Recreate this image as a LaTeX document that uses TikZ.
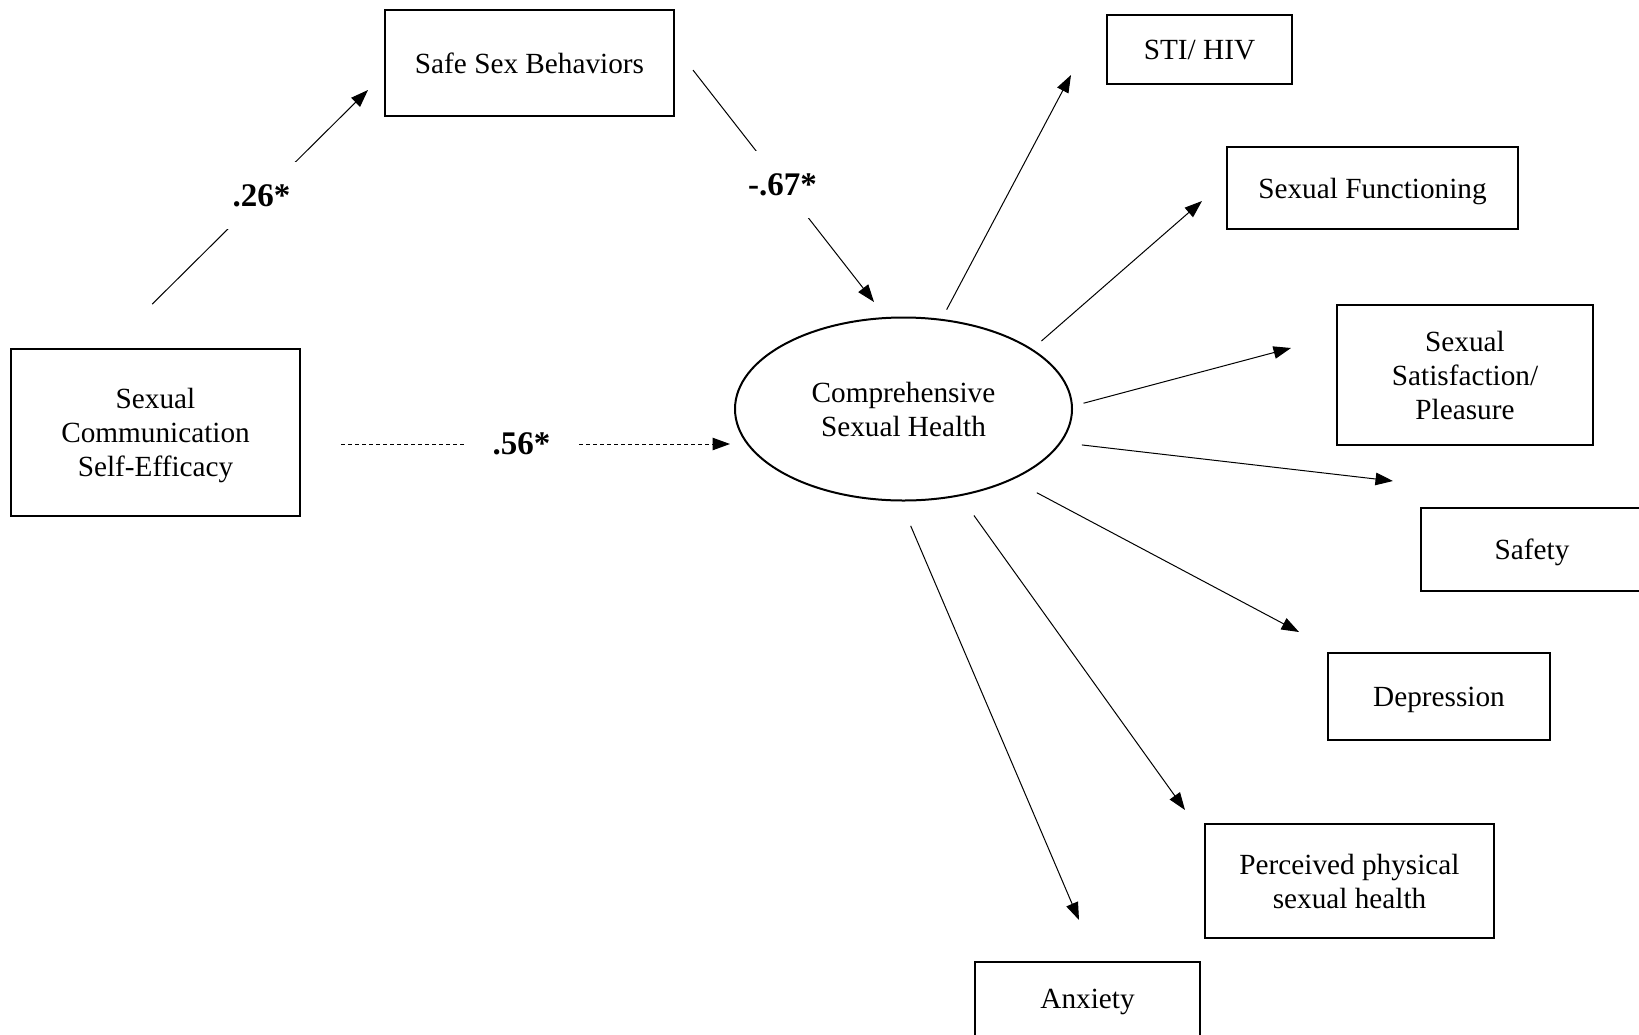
\documentclass[tikz,border=0pt]{standalone}
\usepackage{fontspec}
\setmainfont{Liberation Serif}
\usepackage{tikz}
\usetikzlibrary{shapes.geometric}
\usetikzlibrary{arrows.meta}
\tikzset{
var/.style={ % Observed variables
rectangle,
draw,
line width=0.8pt,
align=center,
text depth=0pt,
inner sep=0pt},
latent/.style={ % Latent construct
ellipse,
draw,
line width=0.8pt,
align=center,
text depth=0pt,
inner sep=0pt},
coef/.style={ % Path coefficients cut into the line
fill=white,
font=\fontsize{13.2}{15}\selectfont\bfseries,
inner xsep=10.8pt,
inner ysep=9pt},
every edge/.style={ % Sets the properties for each path
draw,
-{Triangle[length=7pt,width=5pt]},
line width=0.4pt}}

\begin{document}
\begin{tikzpicture}[x=0.4pt,y=-0.4pt,font=\fontsize{11.7}{13.6}\selectfont]
\useasboundingbox (0,0) rectangle (1639,1034);
\node[var, minimum width=115.6pt, minimum height=66.8pt] (scse) at (155.5,432.5) {Sexual\\Communication\\Self-Efficacy};
\node[var, minimum width=115.6pt, minimum height=42.4pt] (ssb) at (529.5,63) {Safe Sex Behaviors};
\node[latent, minimum width=134.8pt, minimum height=73.2pt] (csh) at (903.5,409) {Comprehensive\\Sexual Health};
\node[var, minimum width=74pt, minimum height=27.6pt] (sti) at (1199.5,49.5) {STI/ HIV};
\node[var, minimum width=116.4pt, minimum height=32.8pt] (sf) at (1372.5,188) {Sexual Functioning};
\node[var, minimum width=102.4pt, minimum height=56pt] (ssp) at (1465,375) {Sexual\\Satisfaction/\\Pleasure};
\node[var, minimum width=88.8pt, minimum height=33.2pt] (saf) at (1532,549.5) {Safety};
\node[var, minimum width=88.8pt, minimum height=34.8pt] (dep) at (1439,696.5) {Depression};
\node[var, minimum width=115.6pt, minimum height=45.6pt] (pps) at (1349.5,881) {Perceived physical\\sexual health};
\node[var, minimum width=90pt, minimum height=29.6pt] (anx) at (1087.5,999) {Anxiety};
% free arrow ends
\coordinate (tssb) at (368,90);
\coordinate (tcsh) at (874,302);
\coordinate (tdir) at (730,444);
\coordinate (tsti) at (1071,75);
\coordinate (tsf) at (1202,201);
\coordinate (tssp) at (1291,348);
\coordinate (tsaf) at (1393,481);
\coordinate (tdep) at (1299,632);
\coordinate (tpps) at (1185,810);
\coordinate (tanx) at (1079,920);
\draw ([xshift=-19pt]scse.north) edge[shorten <=24.9pt] node[coef, pos=0.59] {.26*} (tssb) ;
\draw ([yshift=6.4pt]ssb.east) edge[shorten <=11.7pt] node[coef, pos=0.54] {-.67*} (tcsh) ;
\draw (scse.east |- tdir) edge[dash pattern=on 1.6pt off 1.2pt, shorten <=16pt] node[coef, pos=0.514] {.56*} (tdir) ;
\draw (csh.67) edge[shorten <=4.2pt] (tsti) ;
\draw (csh.25) edge[shorten <=4.8pt] (tsf) ;
\draw (csh.1) edge[shorten <=4.4pt] (tssp) ;
\draw (csh.-12) edge[shorten <=8.2pt] (tsaf) ;
\draw (csh.-33) edge[shorten <=11pt] (tdep) ;
\draw (csh.-57) edge[shorten <=9.5pt] (tpps) ;
\draw (csh.-92) edge[shorten <=10.6pt] (tanx) ;
\end{tikzpicture}
\end{document}
